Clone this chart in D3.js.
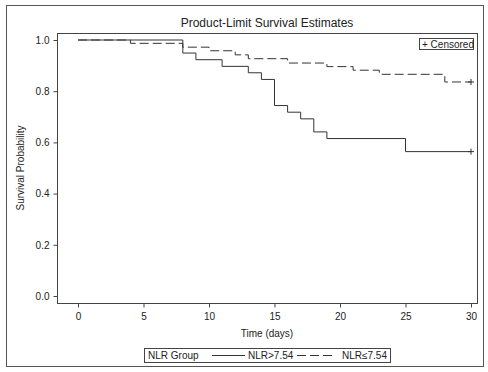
<!DOCTYPE html>
<html>
<head>
<meta charset="utf-8">
<script src="https://cdn.jsdelivr.net/npm/d3@7"></script>
<style>
body { margin: 0; background: #fff; }
svg text { font-family: "Liberation Sans", Arial, sans-serif; fill: #222; }
</style>
</head>
<body>
<script>
// step times and survival estimates
var highTimes = [0, 8, 9, 11, 13, 14, 15, 16, 17, 18, 19, 25];
var highSurv = [1.0, 0.949, 0.923, 0.897, 0.872, 0.846, 0.744, 0.718, 0.692, 0.641, 0.615, 0.564];
var highCensor = [30];

var lowTimes = [0, 4, 8, 10, 12, 13, 16, 19, 21, 23, 28];
var lowSurv = [1.0, 0.987, 0.972, 0.958, 0.942, 0.927, 0.91, 0.896, 0.882, 0.866, 0.836];
var lowCensor = [30];

var xTicks = [0, 5, 10, 15, 20, 25, 30];
var yTicks = [0, 0.2, 0.4, 0.6, 0.8, 1.0];

var W = 488, H = 372;
var svg = d3.select("body").append("svg").attr("width", W).attr("height", H);

// outer frame
svg.append("rect").attr("x", 6.5).attr("y", 5.5).attr("width", 477).attr("height", 361)
    .attr("fill", "none").attr("stroke", "#555").attr("stroke-width", 1);

var x = d3.scaleLinear().domain([0, 30]).range([78, 471]);
var y = d3.scaleLinear().domain([0, 1]).range([296, 40]);
var plotL = 57, plotR = 477, plotT = 33, plotB = 303;

svg.append("text").attr("x", (plotL + plotR) / 2).attr("y", 27).attr("text-anchor", "middle")
    .style("font-size", "12px").text("Product-Limit Survival Estimates");

svg.append("rect").attr("x", plotL + 0.5).attr("y", plotT + 0.5)
    .attr("width", plotR - plotL).attr("height", plotB - plotT)
    .attr("fill", "none").attr("stroke", "#444");

var xAxis = svg.append("g").attr("transform", "translate(0," + (plotB + 0.5) + ")")
    .call(d3.axisBottom(x).tickValues(xTicks).tickSize(4).tickPadding(5).tickSizeOuter(0));
var yAxis = svg.append("g").attr("transform", "translate(" + (plotL + 0.5) + ",0)")
    .call(d3.axisLeft(y).tickValues(yTicks).tickFormat(d3.format(".1f")).tickSize(4).tickPadding(4).tickSizeOuter(0));
[xAxis, yAxis].forEach(function (a) {
    a.select(".domain").remove();
    a.selectAll("line").attr("stroke", "#444");
    a.selectAll("text").style("font-size", "10px").attr("fill", "#222")
        .style("font-family", "Liberation Sans, Arial, sans-serif");
});

svg.append("text").attr("x", (plotL + plotR) / 2).attr("y", 337).attr("text-anchor", "middle")
    .style("font-size", "10px").text("Time (days)");
svg.append("text").attr("transform", "translate(24," + ((plotT + plotB) / 2) + ") rotate(-90)")
    .attr("text-anchor", "middle").style("font-size", "10px").text("Survival Probability");

function stepData(times, surv, end) {
    var pts = times.map(function (t, i) { return [t, surv[i]]; });
    pts.push([end, surv[surv.length - 1]]);
    return pts;
}
var line = d3.line().x(function (d) { return x(d[0]); }).y(function (d) { return y(d[1]); })
    .curve(d3.curveStepAfter);

svg.append("path").datum(stepData(lowTimes, lowSurv, 30)).attr("d", line)
    .attr("fill", "none").attr("stroke", "#333").attr("stroke-width", 1).attr("stroke-dasharray", "9,4");
svg.append("path").datum(stepData(highTimes, highSurv, 30)).attr("d", line)
    .attr("fill", "none").attr("stroke", "#333").attr("stroke-width", 1);

function censorMarks(ts, times, surv) {
    ts.forEach(function (t) {
        var s = surv[d3.bisectRight(times, t) - 1];
        var cx = x(t), cy = y(s);
        svg.append("path").attr("d", "M" + (cx - 3) + "," + cy + "H" + (cx + 3) + "M" + cx + "," + (cy - 3) + "V" + (cy + 3))
            .attr("stroke", "#333").attr("stroke-width", 1);
    });
}
censorMarks(highCensor, highTimes, highSurv);
censorMarks(lowCensor, lowTimes, lowSurv);

// censored legend
svg.append("rect").attr("x", 419.5).attr("y", 38.5).attr("width", 54).attr("height", 11)
    .attr("fill", "#fff").attr("stroke", "#444");
svg.append("text").attr("x", 422).attr("y", 47.5).style("font-size", "10px").text("+ Censored");

// group legend
var lg = svg.append("g");
lg.append("rect").attr("x", 144.5).attr("y", 348.5).attr("width", 246).attr("height", 14)
    .attr("fill", "#fff").attr("stroke", "#444");
lg.append("text").attr("x", 148).attr("y", 359).style("font-size", "10px").text("NLR Group");
lg.append("line").attr("x1", 212).attr("x2", 245).attr("y1", 355.5).attr("y2", 355.5).attr("stroke", "#333");
lg.append("text").attr("x", 248).attr("y", 359).style("font-size", "10px").text("NLR>7.54");
lg.append("line").attr("x1", 297).attr("x2", 334).attr("y1", 355.5).attr("y2", 355.5).attr("stroke", "#333")
    .attr("stroke-dasharray", "9,4");
lg.append("text").attr("x", 342).attr("y", 359).style("font-size", "10px").text("NLR\u22647.54");
</script>
</body>
</html>
